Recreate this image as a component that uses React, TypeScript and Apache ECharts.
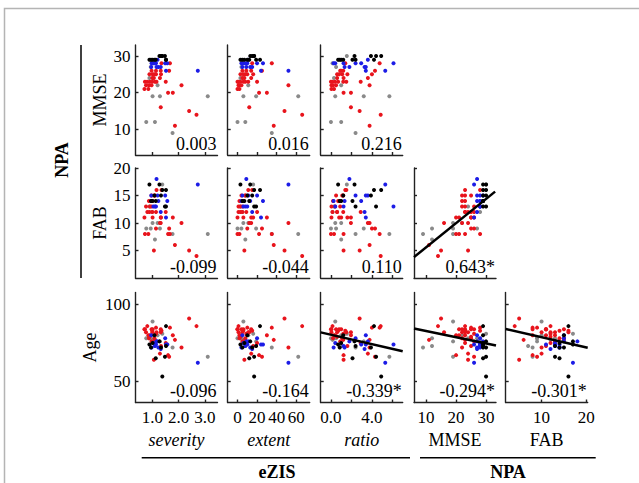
import React, { useEffect, useRef } from 'react';
import * as echarts from 'echarts';

// ---------- data (one entry per subject) ----------
// group: 0 = gray, 1 = red, 2 = blue, 3 = black
const group = [
  3, 3, 3, 3, 3, 3, 3, 3, 3, 3, 3,
  2, 2, 2, 2, 2, 2, 2, 2, 2, 2, 2, 2, 2,
  0, 0, 0, 0, 0, 0, 0, 0, 0, 0, 0,
  1, 1, 1, 1, 1, 1, 1, 1, 1, 1, 1, 1, 1, 1, 1, 1, 1, 1, 1, 1, 1, 1, 1, 1, 1, 1, 1, 1, 1, 1, 1, 1, 1,
];
const severity = [
  0.89, 0.95, 1.01, 1.13, 1.08, 1.52, 1.52, 1.27, 1.33, 1.38, 1.48,
  2.73, 1.16, 0.97, 1.04, 1.10, 1.49, 1.57, 0.96, 1.14, 1.23, 1.32, 1.52, 1.20,
  1.38, 0.99, 0.89, 1.01, 1.29, 3.11, 0.77, 1.10, 1.77, 0.94, 1.20,
  2.40, 2.68, 1.32, 1.86, 2.11, 1.60, 1.78, 0.70, 0.85, 1.35, 1.67, 0.97, 1.14, 1.32, 1.64, 0.89, 1.01,
  1.08, 1.14, 1.33, 1.06, 1.00, 1.29, 0.72, 0.81, 0.91, 1.00, 1.10, 1.16, 1.51, 0.76, 0.87, 0.97,
];
const extent = [
  3, 5, 7, 12, 10, 19, 23, 13, 15, 17, 17,
  52, 9, 4, 6, 8, 20, 26, 5, 10, 13, 15, 24, 11,
  16, 5, 3, 6, 19, 62, 0, 8, 35, 4, 11,
  48, 66, 12, 37, 52, 22, 30, 0, 2, 15, 35, 5, 9, 14, 25, 3, 6,
  8, 10, 16, 7, 5, 14, 0, 1, 3, 6, 8, 11, 20, 1, 2, 4,
];
const ratio = [
  0.70, 0.85, 1.00, 2.10, 1.20, 2.40, 4.20, 2.30, 3.90, 4.90, 4.40,
  5.30, 1.80, 0.26, 0.42, 1.23, 2.40, 2.95, 3.40, 6.10, 1.33, 3.28, 3.40, 3.60,
  1.55, 0.16, 0.30, 0.42, 3.20, 5.70, 0.00, 1.00, 2.40, 0.50, 1.00,
  2.80, 4.85, 1.95, 3.77, 3.77, 1.23, 1.95, 0.05, 0.30, 1.40, 4.75, 0.90, 1.20, 1.00, 4.30, 0.60, 0.80,
  1.10, 4.00, 1.60, 1.23, 0.60, 3.60, 0.00, 0.15, 0.40, 0.70, 1.20, 1.50, 2.90, 0.05, 0.20, 0.50,
];
const mmse = [
  29, 29, 29, 29, 29, 29, 29, 30, 30, 30, 30,
  26, 27, 28, 28, 28, 28, 28, 27, 28, 27, 27, 26, 29,
  30, 28, 24, 19, 19, 19, 12, 12, 9, 27, 22,
  15, 14, 16, 11, 22, 20, 20, 21, 21, 28, 28, 26, 26, 26, 26, 25, 25,
  25, 25, 25, 24, 24, 24, 23, 23, 23, 23, 23, 23, 23, 22, 22, 22,
];
const fab = [
  17, 14, 14, 14, 15, 13, 16, 17, 15, 16, 13,
  17, 18, 14, 13, 13, 15, 14, 15, 13, 14, 12, 11, 15,
  17, 12, 13, 10, 9, 8, 9, 7, 8, 9, 10,
  5, 4, 10, 6, 10, 8, 11, 11, 8, 16, 8, 13, 12, 11, 9, 12, 11,
  15, 9, 11, 5, 12, 10, 8, 12, 13, 14, 15, 16, 12, 13, 14, 15,
];
const age = [
  74, 72, 75, 65, 80, 73, 86, 76, 72, 53, 66,
  62, 76, 72, 75, 73, 78, 74, 80, 74, 72, 71, 74, 76,
  81, 77, 78, 89, 76, 66, 78, 73, 72, 78, 80,
  91, 86, 82, 77, 72, 67, 80, 84, 80, 83, 85, 76, 81, 84, 66, 79, 84,
  78, 85, 73, 64, 82, 68, 84, 86, 80, 83, 77, 82, 75, 82, 78, 84,
];

// correlation coefficients printed in each panel (row by row)
const corrRow1 = ['0.003', '0.016', '0.216'];
const corrRow2 = ['-0.099', '-0.044', '0.110', '0.643*'];
const corrRow3 = ['-0.096', '-0.164', '-0.339*', '-0.294*', '-0.301*'];

// fitted regression lines (end points in data units)
const fitMmseFab = [[6, 3.8], [33, 15.7]];
const fitRatioAge = [[-1, 81.9], [7, 69.5]];
const fitMmseAge = [[6, 84.5], [33.3, 73.3]];
const fitFabAge = [[2, 84.1], [20.3, 71.8]];

// axis ticks
const severityTicks = [1, 2, 3];
const extentTicks = [0, 20, 40, 60];
const ratioTicks = [0, 2, 4, 6];
const ratioTickLabels = [0, 4];
const mmseTicks = [10, 20, 30];
const fabXTicks = [10, 20];
const fabYTicks = [5, 10, 15, 20];
const ageTicks = [50, 100];

const groupColors = ['#8a8a8a', '#e8141c', '#1c1ce6', '#000000'];
const SERIF = '"Liberation Serif", "Times New Roman", Times, serif';

const colLeft = [135.5, 227.7, 320.7, 414, 505.7];
const rowTop = [45, 168, 292.5];
const PW = 82;
const PH = 110;

export default function App() {
  const ref = useRef<HTMLDivElement>(null);

  useEffect(() => {
    if (!ref.current) return;
    const chart = echarts.init(ref.current, undefined, { renderer: 'svg' });

    const xDefs = [
      { arr: severity, min: 0.36, max: 3.48, ticks: severityTicks, labels: severityTicks, fmt: (v: number) => v.toFixed(1), name: 'severity', italic: true },
      { arr: extent, min: -10, max: 73.7, ticks: extentTicks, labels: extentTicks, fmt: (v: number) => String(v), name: 'extent', italic: true },
      { arr: ratio, min: -1, max: 7, ticks: ratioTicks, labels: ratioTickLabels, fmt: (v: number) => v.toFixed(1), name: 'ratio', italic: true },
      { arr: mmse, min: 6, max: 33.3, ticks: mmseTicks, labels: mmseTicks, fmt: (v: number) => String(v), name: 'MMSE', italic: false },
      { arr: fab, min: 2, max: 20.3, ticks: fabXTicks, labels: fabXTicks, fmt: (v: number) => String(v), name: 'FAB', italic: false },
    ];
    const yDefs = [
      { arr: mmse, min: 3, max: 33, ticks: mmseTicks, name: 'MMSE', nameX: 100 },
      { arr: fab, min: 0, max: 20, ticks: fabYTicks, name: 'FAB', nameX: 100 },
      { arr: age, min: 36, max: 108, ticks: ageTicks, name: 'Age', nameX: 90 },
    ];
    const corr = [corrRow1, corrRow2, corrRow3];
    const fits: { r: number; c: number; pts: number[][] }[] = [
      { r: 1, c: 3, pts: fitMmseFab },
      { r: 2, c: 2, pts: fitRatioAge },
      { r: 2, c: 3, pts: fitMmseAge },
      { r: 2, c: 4, pts: fitFabAge },
    ];

    const axisLineStyle = { color: '#222', width: 1.4 };
    const grids: any[] = [];
    const xAxes: any[] = [];
    const yAxes: any[] = [];
    const series: any[] = [];
    const graphics: any[] = [];

    let idx = 0;
    for (let r = 0; r < 3; r++) {
      for (let c = 0; c <= r + 2; c++) {
        const xd = xDefs[c];
        const yd = yDefs[r];
        grids.push({ left: colLeft[c], top: rowTop[r], width: PW, height: PH, containLabel: false });
        xAxes.push({
          type: 'value', gridIndex: idx, min: xd.min, max: xd.max,
          axisLine: { show: true, onZero: false, lineStyle: axisLineStyle },
          axisTick: { show: true, inside: true, length: 3, lineStyle: axisLineStyle, customValues: xd.ticks },
          axisLabel: {
            show: r === 2, customValues: xd.labels, formatter: (v: number) => xd.fmt(v),
            color: '#000', fontFamily: SERIF, fontSize: 17, margin: 6,
          },
          splitLine: { show: false },
        });
        yAxes.push({
          type: 'value', gridIndex: idx, min: yd.min, max: yd.max,
          axisLine: { show: true, onZero: false, lineStyle: axisLineStyle },
          axisTick: { show: true, inside: true, length: 3, lineStyle: axisLineStyle, customValues: yd.ticks },
          axisLabel: {
            show: c === 0, customValues: yd.ticks, color: '#000', fontFamily: SERIF, fontSize: 17, margin: 5,
          },
          splitLine: { show: false },
        });
        for (let g = 0; g < 4; g++) {
          const pts: number[][] = [];
          for (let i = 0; i < group.length; i++) {
            if (group[i] === g) pts.push([xd.arr[i], yd.arr[i]]);
          }
          series.push({
            type: 'scatter', xAxisIndex: idx, yAxisIndex: idx, data: pts,
            symbol: 'circle', symbolSize: 4, silent: true,
            itemStyle: { color: groupColors[g], opacity: 1 }, z: 2 + g,
          });
        }
        // correlation text
        graphics.push({
          type: 'text', x: colLeft[c] + PW - 1, y: rowTop[r] + PH - 11.5, z: 20,
          style: { text: corr[r][c], fontFamily: SERIF, fontSize: 18, fill: '#000', align: 'right', verticalAlign: 'middle' },
        });
        idx++;
      }
    }
    const panelIndex = (r: number, c: number) => {
      let k = 0;
      for (let rr = 0; rr < r; rr++) k += rr + 3;
      return k + c;
    };
    for (const f of fits) {
      const k = panelIndex(f.r, f.c);
      series.push({
        type: 'line', xAxisIndex: k, yAxisIndex: k, data: f.pts, symbol: 'none', silent: true,
        lineStyle: { color: '#000', width: 2.5 }, z: 10,
      });
    }

    // y axis names (rotated)
    for (let r = 0; r < 3; r++) {
      graphics.push({
        type: 'text', x: yDefs[r].nameX, y: rowTop[r] + PH / 2, rotation: Math.PI / 2,
        style: { text: yDefs[r].name, fontFamily: SERIF, fontSize: 18, fill: '#000', align: 'center', verticalAlign: 'middle' },
      });
    }
    // x axis names
    for (let c = 0; c < 5; c++) {
      graphics.push({
        type: 'text', x: colLeft[c] + PW / 2, y: 440,
        style: {
          text: xDefs[c].name, fontFamily: SERIF, fontSize: 18, fill: '#000', align: 'center', verticalAlign: 'middle',
          fontStyle: xDefs[c].italic ? 'italic' : 'normal',
        },
      });
    }
    // brackets and group labels
    graphics.push(
      { type: 'rect', shape: { x: 4.5, y: 8.5, width: 700, height: 600 }, style: { fill: 'none', stroke: '#b4b4b4', lineWidth: 1.5 } },
      { type: 'line', shape: { x1: 81, y1: 45, x2: 81, y2: 278 }, style: { stroke: '#000', lineWidth: 1.5 } },
      { type: 'line', shape: { x1: 141.7, y1: 457.7, x2: 410, y2: 457.7 }, style: { stroke: '#000', lineWidth: 1.5 } },
      { type: 'line', shape: { x1: 420, y1: 457.7, x2: 595.7, y2: 457.7 }, style: { stroke: '#000', lineWidth: 1.5 } },
      {
        type: 'text', x: 62, y: 160, rotation: Math.PI / 2,
        style: { text: 'NPA', fontFamily: SERIF, fontSize: 18, fontWeight: 'bold', fill: '#000', align: 'center', verticalAlign: 'middle' },
      },
      {
        type: 'text', x: 277, y: 472,
        style: { text: 'eZIS', fontFamily: SERIF, fontSize: 18, fontWeight: 'bold', fill: '#000', align: 'center', verticalAlign: 'middle' },
      },
      {
        type: 'text', x: 508, y: 472,
        style: { text: 'NPA', fontFamily: SERIF, fontSize: 18, fontWeight: 'bold', fill: '#000', align: 'center', verticalAlign: 'middle' },
      },
    );

    chart.setOption({
      animation: false,
      backgroundColor: '#fff',
      grid: grids,
      xAxis: xAxes,
      yAxis: yAxes,
      series,
      graphic: graphics,
    });

    return () => chart.dispose();
  }, []);

  return (
    <div
      ref={ref}
      style={{ position: 'fixed', left: 0, top: 0, width: 639, height: 483, background: '#fff' }}
    />
  );
}
